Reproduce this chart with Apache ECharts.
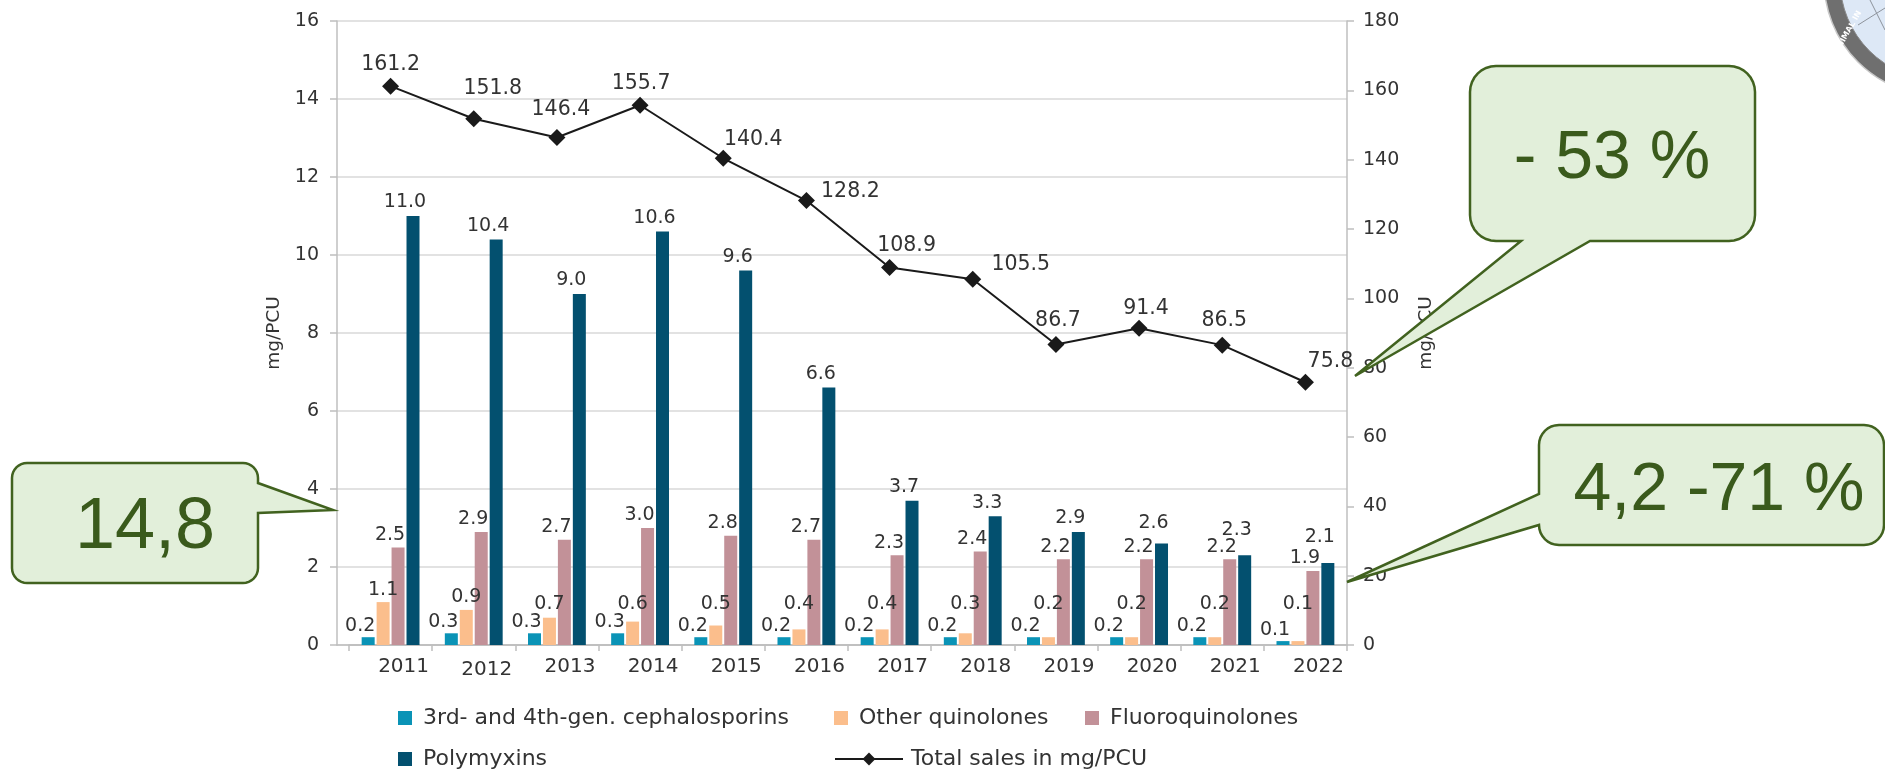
<!DOCTYPE html>
<html>
<head>
<meta charset="utf-8">
<script src="https://cdn.jsdelivr.net/npm/echarts@6/dist/echarts.min.js"></script>
<style>
  html, body { margin: 0; padding: 0; background: #fff; }
  #Map { width: 1885px; height: 771px; }
</style>
</head>
<body>
<div id="Map"></div>
<script>
// data
var years = ['2011', '2012', '2013', '2014', '2015', '2016', '2017', '2018', '2019', '2020', '2021', '2022'];
var cephalosporins = [0.2, 0.3, 0.3, 0.3, 0.2, 0.2, 0.2, 0.2, 0.2, 0.2, 0.2, 0.1];
var otherQuinolones = [1.1, 0.9, 0.7, 0.6, 0.5, 0.4, 0.4, 0.3, 0.2, 0.2, 0.2, 0.1];
var fluoroquinolones = [2.5, 2.9, 2.7, 3.0, 2.8, 2.7, 2.3, 2.4, 2.2, 2.2, 2.2, 1.9];
var polymyxins = [11.0, 10.4, 9.0, 10.6, 9.6, 6.6, 3.7, 3.3, 2.9, 2.6, 2.3, 2.1];
var totalSales = [161.2, 151.8, 146.4, 155.7, 140.4, 128.2, 108.9, 105.5, 86.7, 91.4, 86.5, 75.8];

// where each total label sits relative to its marker (style only)
var lineLabelOffsets = [[0, -22], [19, -30], [4, -28], [1, -22], [30, -19], [44, -9],
                        [17, -22], [48, -15], [2, -24], [7, -19], [2, -24], [25, -21]];
// extra lift of the polymyxin labels so they clear the fluoroquinolone ones (style only)
var polymyxinLabelLift = [0, 0, 0, 0, 0, 0, 0, 0, 0, -7, -12, -13];

var font = 'DejaVu Sans';
var txt = '#333';

var myChart = echarts.init(document.getElementById('Map'));

// speech-bubble outline: rounded box plus a pointer on one edge
function arc(pts, cx, cy, r, a0, a1) {
    for (var i = 0; i <= 8; i++) {
        var a = (a0 + (a1 - a0) * i / 8) * Math.PI / 180;
        pts.push([cx + r * Math.cos(a), cy + r * Math.sin(a)]);
    }
}
function callout(x, y, w, h, r, edge, a, b, tip) {
    var p = [];
    arc(p, x + w - r, y + r, r, -90, 0);
    if (edge === 'right') { p.push([x + w, a], tip, [x + w, b]); }
    arc(p, x + w - r, y + h - r, r, 0, 90);
    if (edge === 'bottom') { p.push([b, y + h], tip, [a, y + h]); }
    arc(p, x + r, y + h - r, r, 90, 180);
    if (edge === 'left') { p.push([x, b], tip, [x, a]); }
    arc(p, x + r, y + r, r, 180, 270);
    return p;
}
var boxFill = '#e2efda';
var boxLine = '#41621f';
var boxText = '#3a5a1c';
function bubble(pts) {
    return { type: 'polygon', z: 100, shape: { points: pts },
             style: { fill: boxFill, stroke: boxLine, lineWidth: 2.5 } };
}
function bigText(s, x, y, size) {
    return { type: 'text', z: 101, x: x, y: y,
             style: { text: s, fill: boxText, font: size + 'px "Liberation Sans"',
                      textAlign: 'center', textVerticalAlign: 'middle' } };
}

function barLabel() {
    return {
        show: true, position: 'top', distance: 3, offset: [-8, 0],
        fontFamily: font, fontSize: 19, color: txt,
        formatter: function (p) { return p.value.toFixed(1); }
    };
}

function barSeries(name, data, color) {
    return { name: name, type: 'bar', data: data, xAxisIndex: 0, yAxisIndex: 0,
             barWidth: 13, barGap: '15%', itemStyle: { color: color }, label: barLabel() };
}

function legendAt(name, left, top, extra) {
    var l = { data: [name], left: left, top: top, padding: 0, itemWidth: 14, itemHeight: 14,
              icon: 'rect', textStyle: { fontFamily: font, fontSize: 22, color: txt, padding: [0, 0, 0, 6] } };
    return Object.assign(l, extra || {});
}

var cephSeries = barSeries('3rd- and 4th-gen. cephalosporins', cephalosporins, '#0a93b6');
cephSeries.label.distance = 2;

var otherSeries = barSeries('Other quinolones', otherQuinolones, '#fbbe8c');
// small bars: keep their labels up at one common height, as in the picture
otherSeries.labelLayout = function (p) {
    var c = p.labelRect.y + p.labelRect.height / 2;
    return c > 604 ? { dy: 604 - c } : {};
};

var polySeries = barSeries('Polymyxins', polymyxins.map(function (v, i) {
    return { value: v, label: { offset: [-8, polymyxinLabelLift[i]] } };
}), '#03506f');
polySeries.label.distance = 4;

var option = {
    animation: false,
    grid: [
        { left: 349, right: 538, top: 21, bottom: 126 },
        { left: 337, right: 538, top: 21, bottom: 126 }
    ],
    legend: [
        legendAt('3rd- and 4th-gen. cephalosporins', 398, 707),
        legendAt('Other quinolones', 834, 707),
        legendAt('Fluoroquinolones', 1085, 707),
        legendAt('Polymyxins', 398, 748),
        legendAt('Total sales in mg/PCU', 834, 748, { icon: null, itemWidth: 68, itemHeight: 16,
            textStyle: { fontFamily: font, fontSize: 22, color: txt, padding: [0, 0, 0, 3] } })
    ],
    xAxis: [
        {
            gridIndex: 0, type: 'category', data: years,
            axisLine: { lineStyle: { color: '#bfbfbf', width: 1.5 } },
            axisTick: { show: true, interval: 0, length: 6, lineStyle: { color: '#bfbfbf', width: 1.5 } },
            axisLabel: {
                interval: 0, fontFamily: font, fontSize: 20, color: txt, margin: 12, padding: [0, 0, 0, 26],
                // the 2012 label sits a little lower in the original
                formatter: function (v, i) { return i === 1 ? '{low|' + v + '}' : v; },
                rich: { low: { fontFamily: font, fontSize: 20, color: txt, padding: [3, 0, 0, 0] } }
            }
        },
        {
            gridIndex: 1, type: 'category', data: years,
            axisLine: { lineStyle: { color: '#bfbfbf', width: 1.5 } },
            axisTick: { show: false }, axisLabel: { show: false }
        }
    ],
    yAxis: [
        { gridIndex: 0, type: 'value', min: 0, max: 16, interval: 2, show: false },
        {
            gridIndex: 0, type: 'value', position: 'right', min: 0, max: 180, interval: 20,
            name: 'mg/PCU', nameLocation: 'middle', nameGap: 70,
            nameTextStyle: { fontFamily: font, fontSize: 18.5, color: txt },
            axisLine: { show: true, lineStyle: { color: '#bfbfbf', width: 1.5 } },
            axisTick: { show: true, length: 7, lineStyle: { color: '#bfbfbf', width: 1.5 } },
            axisLabel: { fontFamily: font, fontSize: 19, color: txt, margin: 16 },
            splitLine: { show: false }
        },
        {
            gridIndex: 1, type: 'value', min: 0, max: 16, interval: 2,
            name: 'mg/PCU', nameLocation: 'middle', nameGap: 51,
            nameTextStyle: { fontFamily: font, fontSize: 18.5, color: txt },
            axisLine: { show: true, lineStyle: { color: '#bfbfbf', width: 1.5 } },
            axisTick: { show: true, length: 7, lineStyle: { color: '#bfbfbf', width: 1.5 } },
            axisLabel: { fontFamily: font, fontSize: 19, color: txt, margin: 18 },
            splitLine: { lineStyle: { color: '#d9d9d9', width: 1.5 } }
        }
    ],
    series: [
        cephSeries,
        otherSeries,
        barSeries('Fluoroquinolones', fluoroquinolones, '#c29198'),
        polySeries,
        {
            name: 'Total sales in mg/PCU', type: 'line', xAxisIndex: 0, yAxisIndex: 1, z: 5,
            data: totalSales.map(function (v, i) {
                return { value: v, label: { offset: lineLabelOffsets[i] } };
            }),
            symbol: 'diamond', symbolSize: 17,
            lineStyle: { color: '#1a1a1a', width: 2 },
            itemStyle: { color: '#1a1a1a' },
            label: { show: true, position: 'inside', fontFamily: font, fontSize: 20.5, color: txt,
                     formatter: function (p) { return p.value.toFixed(1); } }
        }
    ],
    graphic: [
        // logo corner
        { type: 'circle', z: 90, shape: { cx: 1940, cy: -20, r: 116 },
          style: { fill: '#6f6f6f', stroke: '#c8c8c8', lineWidth: 1.5 } },
        { type: 'circle', z: 91, shape: { cx: 1940, cy: -20, r: 100 },
          style: { fill: '#dde8f6', stroke: '#8a8a8a', lineWidth: 1 } },
        { type: 'line', z: 92, shape: { x1: 1858, y1: 25, x2: 1885, y2: 8 },
          style: { stroke: '#8d939b', lineWidth: 1 } },
        { type: 'line', z: 92, shape: { x1: 1870, y1: 0, x2: 1885, y2: 30 },
          style: { stroke: '#8d939b', lineWidth: 1 } },
        { type: 'text', z: 93, x: 1848, y: 32, rotation: 1.05,
          style: { text: 'ANIMAL IN', fill: '#fff', font: 'bold 8px "DejaVu Sans"',
                   textAlign: 'center', textVerticalAlign: 'middle' } },
        // callouts
        bubble(callout(12, 463, 246, 120, 15, 'right', 483, 513, [333, 510])),
        bigText('14,8', 145, 528, 72),
        bubble(callout(1470, 66, 285, 175, 26, 'bottom', 1521, 1590, [1355, 376])),
        bigText('- 53 %', 1612, 159, 68),
        bubble(callout(1539, 425, 345, 120, 20, 'left', 494, 525, [1347, 582])),
        bigText('4,2 -71 %', 1719, 491, 68)
    ]
};

myChart.setOption(option);
</script>
</body>
</html>
